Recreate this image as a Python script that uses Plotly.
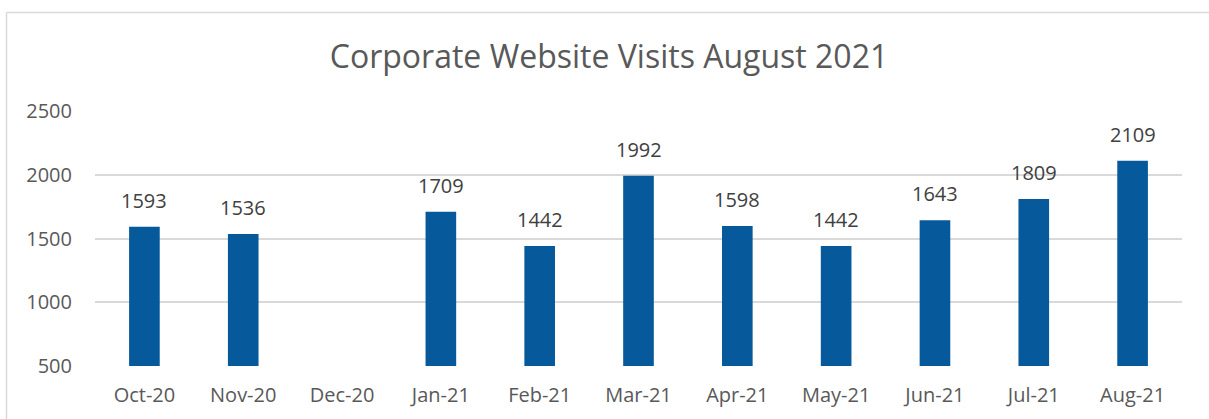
import plotly.graph_objects as go

months = ["Oct-20", "Nov-20", "Dec-20", "Jan-21", "Feb-21", "Mar-21",
          "Apr-21", "May-21", "Jun-21", "Jul-21", "Aug-21"]
visits = [1593, 1536, None, 1709, 1442, 1992, 1598, 1442, 1643, 1809, 2109]
y_ticks = [500, 1000, 1500, 2000, 2500]

W, H = 1209, 419
L, R, T, B = 95, 27, 111, 53
pw, ph = W - L - R, H - T - B


def px_x(x):
    return (x - L) / pw


def px_y(y):
    return (H - B - y) / ph


fig = go.Figure()
fig.add_trace(go.Bar(x=months, y=visits, marker_color="#06599A",
                     marker_line_width=0, width=0.31, hoverinfo="x+y"))

for m, v in zip(months, visits):
    if v is None:
        continue
    fig.add_annotation(x=m, y=v, text=str(v), showarrow=False,
                       yanchor="bottom", yshift=11,
                       font=dict(family="Open Sans", size=20, color="#404040"))

# chart border (top and left edges visible)
border = dict(color="#D9D9D9", width=1.5)
fig.add_shape(type="line", xref="paper", yref="paper",
              x0=px_x(6.5), x1=px_x(W + 2), y0=px_y(12.5), y1=px_y(12.5), line=border)
fig.add_shape(type="line", xref="paper", yref="paper",
              x0=px_x(6.5), x1=px_x(6.5), y0=px_y(12.5), y1=px_y(H + 2), line=border)

fig.update_layout(
    width=W, height=H,
    margin=dict(l=L, r=R, t=T, b=B),
    paper_bgcolor="white", plot_bgcolor="white",
    showlegend=False,
    title=dict(text="Corporate Website Visits August 2021",
               x=609 / W, xanchor="center", y=1 - 57 / H, yanchor="middle",
               font=dict(family="Open Sans", size=32, color="#595959")),
)
fig.update_xaxes(type="category", categoryorder="array", categoryarray=months,
                 showgrid=False, showline=False, ticks="",
                 tickfont=dict(family="Open Sans", size=20, color="#595959"),
                 ticklabelstandoff=15)
fig.update_yaxes(range=[500, 2500], tickvals=y_ticks, showgrid=True,
                 gridcolor="#D9D9D9", gridwidth=1.5, zeroline=False,
                 showline=False, ticks="",
                 tickfont=dict(family="Open Sans", size=20, color="#595959"),
                 ticklabelstandoff=22)

fig.write_html("out.html", config={"displayModeBar": False},
               post_script="document.body.style.margin='0px';")
